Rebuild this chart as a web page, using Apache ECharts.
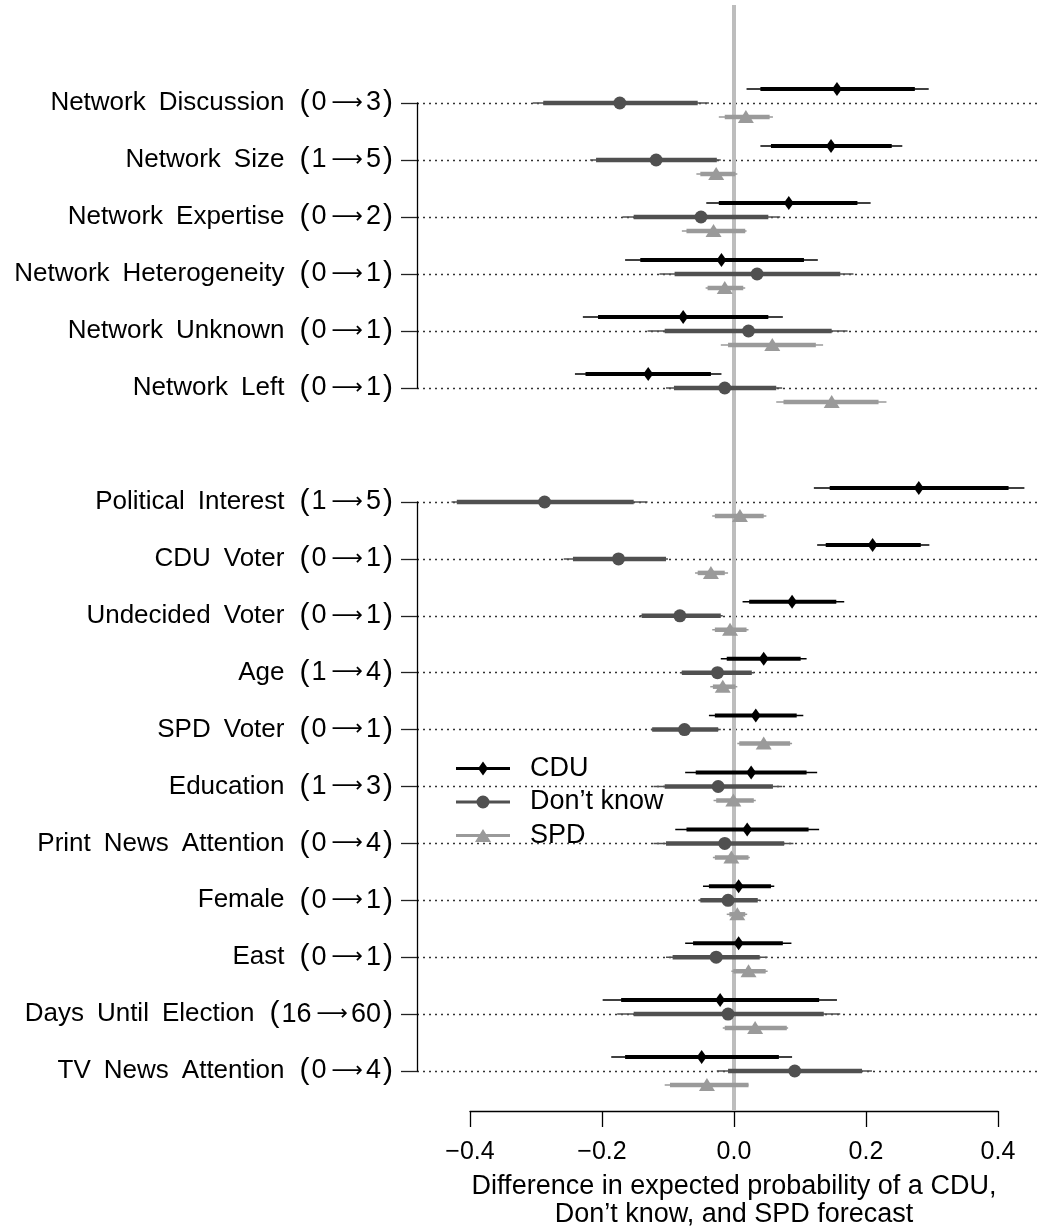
<!DOCTYPE html>
<html>
<head>
<meta charset="utf-8">
<script src="https://cdn.jsdelivr.net/npm/echarts@6/dist/echarts.min.js"></script>
<style>
  body{margin:0;background:#fff;}
  #main{width:1037px;height:1229px;}
</style>
</head>
<body>
<div id="main"></div>
<script>
// rows, top group then bottom group
var networkVars = ['Network Discussion (0 → 3)','Network Size (1 → 5)','Network Expertise (0 → 2)',
  'Network Heterogeneity (0 → 1)','Network Unknown (0 → 1)','Network Left (0 → 1)'];
var otherVars = ['Political Interest (1 → 5)','CDU Voter (0 → 1)','Undecided Voter (0 → 1)','Age (1 → 4)',
  'SPD Voter (0 → 1)','Education (1 → 3)','Print News Attention (0 → 4)','Female (0 → 1)','East (0 → 1)',
  'Days Until Election (16 → 60)','TV News Attention (0 → 4)'];
var xTicks = [-0.4, -0.2, 0, 0.2, 0.4];

// CDU
var cduEst = [0.156,0.147,0.083,-0.019,-0.077,-0.130, 0.280,0.210,0.088,0.045,0.033,0.026,0.020,0.007,0.007,-0.021,-0.049];
var cduInLo = [0.040,0.056,-0.023,-0.142,-0.206,-0.225, 0.145,0.139,0.023,-0.011,-0.029,-0.058,-0.072,-0.038,-0.062,-0.171,-0.165];
var cduInHi = [0.274,0.239,0.187,0.106,0.052,-0.035, 0.416,0.283,0.155,0.101,0.095,0.110,0.113,0.056,0.074,0.129,0.068];
var cduOutLo = [0.019,0.040,-0.042,-0.165,-0.229,-0.241, 0.121,0.126,0.013,-0.020,-0.038,-0.074,-0.089,-0.047,-0.074,-0.199,-0.186];
var cduOutHi = [0.295,0.255,0.207,0.127,0.074,-0.019, 0.440,0.296,0.167,0.110,0.105,0.126,0.129,0.061,0.087,0.156,0.088];
// Don't know
var dkEst = [-0.173,-0.118,-0.050,0.035,0.022,-0.014, -0.287,-0.175,-0.082,-0.025,-0.075,-0.024,-0.014,-0.009,-0.027,-0.009,0.092];
var dkInLo = [-0.289,-0.209,-0.152,-0.090,-0.105,-0.091, -0.420,-0.244,-0.140,-0.079,-0.124,-0.105,-0.103,-0.051,-0.093,-0.152,-0.009];
var dkInHi = [-0.055,-0.026,0.052,0.161,0.148,0.064, -0.152,-0.103,-0.020,0.027,-0.024,0.059,0.076,0.036,0.039,0.136,0.194];
var dkOutLo = [-0.305,-0.218,-0.169,-0.113,-0.131,-0.103, -0.428,-0.258,-0.143,-0.082,-0.126,-0.122,-0.122,-0.054,-0.103,-0.177,-0.026];
var dkOutHi = [-0.038,-0.020,0.070,0.181,0.172,0.073, -0.131,-0.100,-0.017,0.030,-0.020,0.073,0.090,0.039,0.051,0.161,0.209];
// SPD
var spdEst = [0.018,-0.027,-0.031,-0.014,0.058,0.148, 0.009,-0.035,-0.006,-0.017,0.045,-0.001,-0.004,0.005,0.022,0.032,-0.041];
var spdInLo = [-0.014,-0.051,-0.072,-0.040,-0.009,0.075, -0.029,-0.055,-0.029,-0.032,0.008,-0.027,-0.029,-0.007,-0.001,-0.014,-0.097];
var spdInHi = [0.054,0.002,0.017,0.014,0.124,0.219, 0.045,-0.014,0.019,0.002,0.085,0.030,0.022,0.017,0.048,0.080,0.022];
var spdOutLo = [-0.023,-0.057,-0.079,-0.043,-0.020,0.064, -0.033,-0.059,-0.033,-0.036,0.005,-0.031,-0.032,-0.011,-0.004,-0.017,-0.105];
var spdOutHi = [0.059,0.005,0.019,0.017,0.135,0.231, 0.049,-0.009,0.022,0.005,0.088,0.033,0.024,0.020,0.051,0.082,0.022];

var FONT = "'Liberation Sans', Arial, Helvetica, sans-serif";
var pxPerUnit = 528 / 0.8;           // bottom axis: -0.4..0.4 over 528px
var xLo = -0.4 - (470 - 417) / pxPerUnit, xHi = 0.4 + 39 / pxPerUnit;

var parties = [
  {name:'CDU', color:'#000', thick:4, dy:-14, marker:'diamond', est:cduEst, inLo:cduInLo, inHi:cduInHi, outLo:cduOutLo, outHi:cduOutHi},
  {name:'Don’t know', color:'#505050', thick:4.5, dy:0, marker:'circle', est:dkEst, inLo:dkInLo, inHi:dkInHi, outLo:dkOutLo, outHi:dkOutHi},
  {name:'SPD', color:'#9a9a9a', thick:4.5, dy:14, marker:'triangle', est:spdEst, inLo:spdInLo, inHi:spdInHi, outLo:spdOutLo, outHi:spdOutHi}
];

// "Name (a → b)" -> rich text, wide word gaps, bigger parens and a long arrow
function labelFmt(v){
  var m = v.match(/^(.*) \((.*) → (.*)\)$/);
  return '{n|' + m[1].replace(/ /g, '\u2002') + '\u2002}{p|(}{r|' + m[2] + '}{a|\u27f6}{r|' + m[3] + '}{p|)}';
}

function yAxisFor(g, cats){
  return {
    type:'category', gridIndex:g, data:cats, inverse:true, boundaryGap:false,
    axisLine:{onZero:false, lineStyle:{color:'#000', width:1.3}},
    axisTick:{length:16, interval:0, lineStyle:{color:'#222', width:1.3}},
    axisLabel:{interval:0, margin:22, color:'#000', formatter:labelFmt,
      rich:{n:{fontSize:26, fontFamily:FONT, color:'#000'},
            r:{fontSize:27, fontFamily:FONT, color:'#000'},
            a:{fontSize:22, fontFamily:"'DejaVu Sans'", color:'#000', padding:[0,3,0,5]},
            p:{fontSize:30, fontFamily:FONT, color:'#000', padding:[0,2,0,2]}}},
    splitLine:{show:true, interval:0, lineStyle:{color:'#333', width:1.3, type:[2,4]}}
  };
}

function makeSeries(p, g, from, to){
  var data = [];
  for(var i = from; i < to; i++){
    data.push([i - from, p.est[i], p.inLo[i], p.inHi[i], p.outLo[i], p.outHi[i]]);
  }
  return {
    type:'custom', name:p.name, xAxisIndex:g, yAxisIndex:g, z:5,
    itemStyle:{color:p.color}, silent:true,
    encode:{x:[1,2,3,4,5], y:0},
    data:data,
    renderItem:function(params, api){
      var row = api.value(0);
      var c = api.coord([api.value(1), row]);
      var y = c[1] + p.dy;
      var o1 = api.coord([api.value(4), row])[0], o2 = api.coord([api.value(5), row])[0];
      var i1 = api.coord([api.value(2), row])[0], i2 = api.coord([api.value(3), row])[0];
      var kids = [
        {type:'line', shape:{x1:o1, y1:y, x2:o2, y2:y}, style:{stroke:p.color, lineWidth:1.5}},
        {type:'line', shape:{x1:i1, y1:y, x2:i2, y2:y}, style:{stroke:p.color, lineWidth:p.thick}}
      ];
      var x = c[0];
      if(p.marker == 'diamond'){
        kids.push({type:'polygon', shape:{points:[[x-5,y],[x,y-7],[x+5,y],[x,y+7]]}, style:{fill:p.color}});
      } else if(p.marker == 'circle'){
        kids.push({type:'circle', shape:{cx:x, cy:y, r:6.5}, style:{fill:p.color}});
      } else {
        kids.push({type:'polygon', shape:{points:[[x-8,y+6],[x,y-7],[x+8,y+6]]}, style:{fill:p.color}});
      }
      return {type:'group', children:kids};
    }
  };
}

var series = [];
parties.forEach(function(p){
  series.push(makeSeries(p, 0, 0, networkVars.length));
  series.push(makeSeries(p, 1, networkVars.length, networkVars.length + otherVars.length));
});
// grey zero reference line
series.push({
  type:'line', xAxisIndex:2, yAxisIndex:2, data:[], silent:true, z:1,
  markLine:{symbol:'none', silent:true, label:{show:false},
    lineStyle:{color:'#bdbdbd', width:4, type:'solid'}, data:[{xAxis:0}]}
});

var rect = 'M0,5.5 L54,5.5 L54,8.5 L0,8.5 Z ';
var option = {
  animation:false,
  backgroundColor:'#fff',
  textStyle:{fontFamily:FONT},
  grid:[
    {left:417, right:0, top:103, height:285, outerBoundsMode:'none'},
    {left:417, right:0, top:502, height:569, outerBoundsMode:'none'},
    {left:470, right:39, top:5, height:1106, outerBoundsMode:'none'}
  ],
  xAxis:[
    {type:'value', gridIndex:0, min:xLo, max:xHi, show:false},
    {type:'value', gridIndex:1, min:xLo, max:xHi, show:false},
    {type:'value', gridIndex:2, min:xTicks[0], max:xTicks[xTicks.length-1], interval:0.2,
      axisLine:{onZero:false, lineStyle:{color:'#000', width:1.3}},
      axisTick:{length:16, lineStyle:{color:'#000', width:1.3}},
      axisLabel:{fontSize:25, margin:29, color:'#000', fontFamily:FONT,
        formatter:function(v){ return v < 0 ? '\u2212' + Math.abs(v).toFixed(1) : v.toFixed(1); }},
      splitLine:{show:false},
      name:'Difference in expected probability of a CDU,\nDon’t know, and SPD forecast',
      nameLocation:'middle', nameGap:62,
      nameTextStyle:{fontSize:27, lineHeight:28, color:'#000', fontFamily:FONT}}
  ],
  yAxis:[
    yAxisFor(0, networkVars),
    yAxisFor(1, otherVars),
    {type:'value', gridIndex:2, min:0, max:1, show:false}
  ],
  legend:{
    orient:'vertical', left:456, top:755, padding:0, itemWidth:54, itemHeight:14, itemGap:6.5,
    selectedMode:false,
    textStyle:{fontSize:27, color:'#000', padding:[0,0,0,15], fontFamily:FONT},
    data:[
      {name:'CDU', icon:'path://' + rect + 'M22,7 L27,0 L32,7 L27,14 Z'},
      {name:'Don’t know', icon:'path://' + rect + 'M20.5,7 A6.5,6.5 0 1,1 33.5,7 A6.5,6.5 0 1,1 20.5,7 Z'},
      {name:'SPD', icon:'path://' + rect + 'M19,13.5 L27,0.5 L35,13.5 Z'}
    ]
  },
  series:series
};

var chart = echarts.init(document.getElementById('main'));
chart.setOption(option);
</script>
</body>
</html>
